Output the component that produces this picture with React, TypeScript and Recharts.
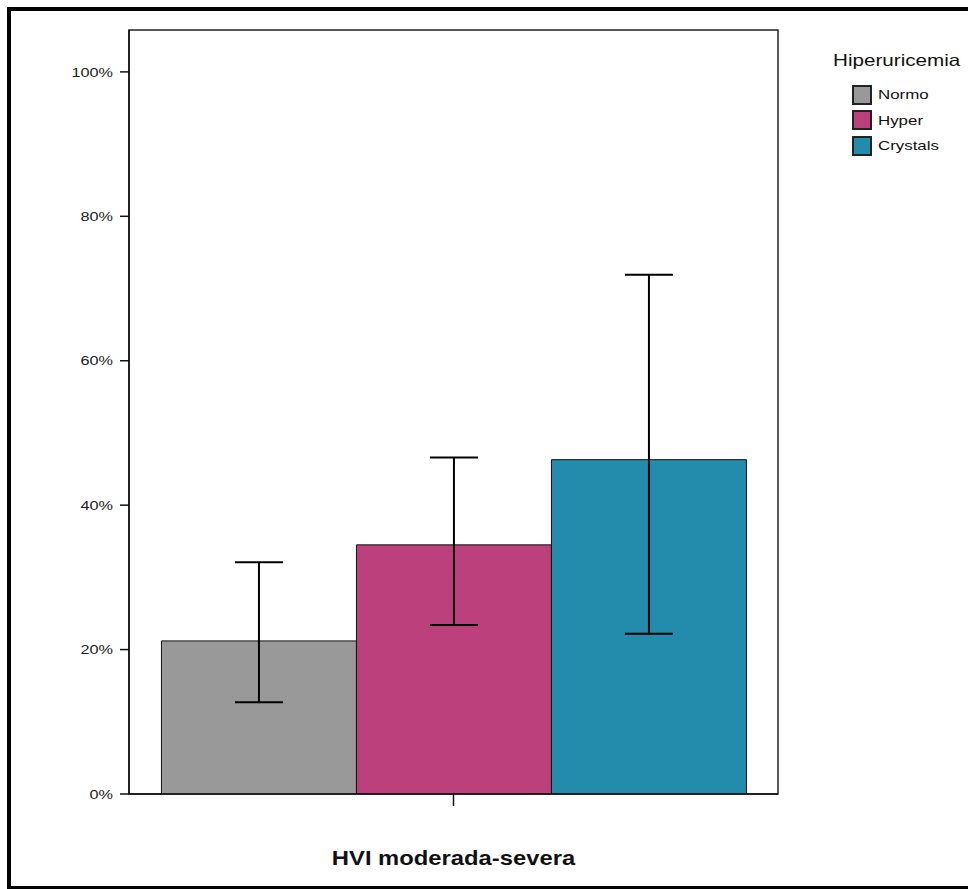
import { BarChart, Bar, XAxis, YAxis, ErrorBar, ReferenceArea } from "recharts";

const category = "HVI moderada-severa";
const groups = ["Normo", "Hyper", "Crystals"];
const percents = [21.2, 34.5, 46.3];
const lower = [12.7, 23.4, 22.2];
const upper = [32.1, 46.6, 71.9];
const colors = ["#999999", "#bc407b", "#238bab"];
const yTicks = [0, 20, 40, 60, 80, 100];
const yMax = 105.8;

const keys = ["normo", "hyper", "crystals"];

// one row, one bar per group; error arrays are [down, up] deltas
const row: Record<string, any> = { name: category };
keys.forEach((k, i) => {
  row[k] = percents[i];
  row[k + "Err"] = [percents[i] - lower[i], upper[i] - percents[i]];
});
const data = [row];

const font = "'Liberation Sans', Arial, sans-serif";
// the source picture is stretched sideways, so text is widened a bit
const stretch = 1.25;

function YTick({ x, y, payload }: any) {
  return (
    <text
      transform={`translate(${x - 5},${y}) scale(${stretch},1)`}
      textAnchor="end"
      dy="0.36em"
      fill="#1a1a1a"
      fontSize={13}
      fontFamily={font}
    >
      {payload.value}%
    </text>
  );
}

function XTick({ x, y, payload }: any) {
  return (
    <text
      transform={`translate(${x},${y + 57}) scale(1.22,1)`}
      textAnchor="middle"
      fill="#111"
      fontSize={19.5}
      fontWeight="bold"
      fontFamily={font}
    >
      {payload.value}
    </text>
  );
}

function LegendBox() {
  return (
    <div style={{ position: "absolute", left: 833, top: 51, fontFamily: font, color: "#111" }}>
      <div style={{ fontSize: 16.5, height: 31, transform: `scaleX(${stretch})`, transformOrigin: "left top" }}>
        Hiperuricemia
      </div>
      {groups.map((g, i) => (
        <div key={g} style={{ display: "flex", alignItems: "center", marginLeft: 19, height: 25.5 }}>
          <span
            style={{
              width: 20,
              height: 20,
              background: colors[i],
              border: "2px solid #222",
              boxSizing: "border-box",
              display: "inline-block",
              marginRight: 6,
            }}
          />
          <span style={{ fontSize: 13.5, transform: `scaleX(${stretch})`, transformOrigin: "left center" }}>{g}</span>
        </div>
      ))}
    </div>
  );
}

export default function App() {
  return (
    <div style={{ position: "absolute", left: 0, top: 0, width: 968, height: 889, background: "#fff", overflow: "hidden" }}>
      <div
        style={{
          position: "absolute",
          left: 7,
          top: 7,
          width: 990,
          height: 883,
          border: "4px solid #000",
          boxSizing: "border-box",
        }}
      />
      <BarChart
        width={968}
        height={889}
        data={data}
        margin={{ top: 30, right: 190, bottom: 35, left: 69 }}
        barCategoryGap="5%"
        barGap={0}
        style={{ position: "absolute", left: 0, top: 0 }}
      >
        <XAxis
          dataKey="name"
          height={60}
          tick={<XTick />}
          tickLine={{ stroke: "#111", strokeWidth: 1.5 }}
          tickSize={12}
          axisLine={{ stroke: "#111", strokeWidth: 1.5 }}
        />
        <YAxis
          width={60}
          domain={[0, yMax]}
          ticks={yTicks}
          allowDataOverflow
          tickSize={9}
          tickLine={{ stroke: "#111", strokeWidth: 1.5 }}
          axisLine={{ stroke: "#111", strokeWidth: 1.5 }}
          tick={<YTick />}
        />
        <ReferenceArea y1={0} y2={yMax} fill="none" stroke="#222" strokeWidth={1.5} />
        {keys.map((k, i) => (
          <Bar key={k} dataKey={k} name={groups[i]} fill={colors[i]} stroke="#111" strokeWidth={1} isAnimationActive={false}>
            <ErrorBar dataKey={k + "Err"} width={24} stroke="#000" strokeWidth={2} isAnimationActive={false} />
          </Bar>
        ))}
      </BarChart>
      <LegendBox />
    </div>
  );
}
